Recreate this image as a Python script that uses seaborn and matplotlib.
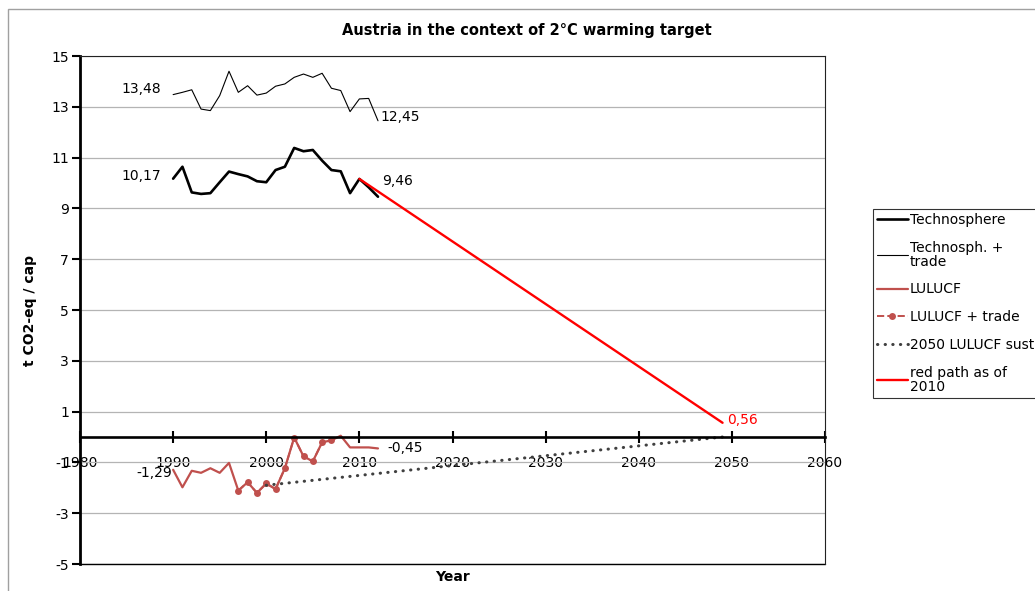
import matplotlib
matplotlib.use("Agg")
import matplotlib.pyplot as plt
import seaborn as sns
from matplotlib.patches import Rectangle

# data
years = list(range(1990, 2013))
technosphere = [10.17, 10.64, 9.63, 9.57, 9.60, 10.03, 10.45, 10.35, 10.26, 10.07, 10.03, 10.51,
                10.64, 11.38, 11.25, 11.30, 10.88, 10.51, 10.46, 9.60, 10.16, 9.83, 9.46]
technosph_trade = [13.48, 13.57, 13.67, 12.91, 12.85, 13.44, 14.40, 13.57, 13.83, 13.46, 13.54, 13.81,
                   13.90, 14.16, 14.29, 14.16, 14.32, 13.73, 13.64, 12.81, 13.31, 13.33, 12.45]
lulucf = [-1.29, -1.98, -1.33, -1.41, -1.23, -1.41, -1.02, -2.11, -1.78, -2.20, -1.83, -2.05,
          -1.23, -0.02, -0.76, -0.96, -0.21, -0.13, 0.05, -0.41, -0.41, -0.41, -0.45]
lulucf_trade_years = list(range(1997, 2008))
lulucf_trade = [-2.11, -1.78, -2.20, -1.83, -2.05, -1.23, -0.02, -0.76, -0.96, -0.21, -0.13]
sust_years = [2000, 2049]
sust_2050 = [-1.90, 0.0]
path_years = [2010, 2049]
red_path = [10.16, 0.56]

xticks = list(range(1980, 2061, 10))
yticks = list(range(-5, 16, 2))

sns.set_theme(style="white")
plt.rcParams['font.family'] = ['DejaVu Sans']
plt.rcParams['text.color'] = 'black'
plt.rcParams['axes.labelcolor'] = 'black'
plt.rcParams['xtick.color'] = 'black'
plt.rcParams['ytick.color'] = 'black'

fig = plt.figure(figsize=(10.35, 5.91), dpi=100)
ax = fig.add_axes([80 / 1035, 1 - 564 / 591, 745 / 1035, 508 / 591])

lulucf_col = '#C0504D'
sns.lineplot(x=years, y=technosphere, ax=ax, color='black', linewidth=1.9, label='Technosphere')
sns.lineplot(x=years, y=technosph_trade, ax=ax, color='black', linewidth=0.8,
             label='Technosph. +\ntrade')
sns.lineplot(x=years, y=lulucf, ax=ax, color=lulucf_col, linewidth=1.6, label='LULUCF')
sns.lineplot(x=lulucf_trade_years, y=lulucf_trade, ax=ax, color=lulucf_col, linewidth=1.4,
             linestyle='--', marker='o', markersize=5, markeredgewidth=0,
             label='LULUCF + trade')
sns.lineplot(x=sust_years, y=sust_2050, ax=ax, color='#404040', linewidth=2.2,
             linestyle=(0, (0.1, 2.4)), dash_capstyle='round',
             label='2050 LULUCF sustainable')
sns.lineplot(x=path_years, y=red_path, ax=ax, color='#FF0000', linewidth=1.7,
             label='red path as of\n2010')

handles, labels = ax.get_legend_handles_labels()
if ax.get_legend() is not None:
    ax.get_legend().remove()

ax.set_xlim(1980, 2060)
ax.set_ylim(-5, 15)
ax.set_xticks(xticks)
ax.set_yticks(yticks)
ax.set_xticklabels([str(t) for t in xticks])
ax.set_yticklabels([str(t) for t in yticks])
ax.yaxis.grid(True, color='#b4b4b4', linewidth=0.9)
ax.xaxis.grid(False)

for side in ['top', 'right']:
    ax.spines[side].set_color('#222222')
    ax.spines[side].set_linewidth(0.8)
ax.spines['left'].set_color('black')
ax.spines['left'].set_linewidth(2.0)
ax.spines['bottom'].set_position(('data', 0))
ax.spines['bottom'].set_color('black')
ax.spines['bottom'].set_linewidth(1.9)
# plot-area bottom border
ax.plot([0, 1], [0, 0], transform=ax.transAxes, color='black', linewidth=1.0, clip_on=False)

ax.tick_params(axis='x', direction='inout', length=8, width=1.5, color='black',
               pad=10, labelsize=10, bottom=True)
ax.tick_params(axis='y', direction='out', length=6, width=1.5, color='black',
               pad=2, labelsize=10, left=True)

ax.set_ylabel('t CO2-eq / cap', fontsize=10, fontweight='bold')
ax.yaxis.set_label_coords(-43 / 745, 0.5)
ax.set_xlabel('Year', fontsize=10, fontweight='bold')
ax.xaxis.set_label_coords(0.5, -6 / 508)

# value labels
ann = dict(textcoords='offset points', fontsize=10, va='center')
ax.annotate('13,48', xy=(years[0], technosph_trade[0]), xytext=(-9, 4), ha='right', **ann)
ax.annotate('12,45', xy=(years[-1], technosph_trade[-1]), xytext=(2, 3), ha='left', **ann)
ax.annotate('10,17', xy=(years[0], technosphere[0]), xytext=(-9, 2), ha='right', **ann)
ax.annotate('9,46', xy=(years[-1], technosphere[-1]), xytext=(3, 11), ha='left', **ann)
ax.annotate('-1,29', xy=(years[0], lulucf[0]), xytext=(-1, -2), ha='right', **ann)
ax.annotate('-0,45', xy=(years[-1], lulucf[-1]), xytext=(7, 0), ha='left', **ann)
ax.annotate('0,56', xy=(path_years[-1], red_path[-1]), xytext=(3, 2), ha='left',
            color='#FF0000', **ann)

fig.text(527 / 1035, 1 - 30 / 591, 'Austria in the context of 2°C warming target',
         ha='center', va='center', fontsize=10.5, fontweight='bold')

leg = fig.legend(handles, labels, loc='upper left', bbox_to_anchor=(873 / 1035, 1 - 209 / 591),
                 fontsize=10, frameon=True, fancybox=False, shadow=False,
                 handlelength=2.2, handletextpad=0.15, labelspacing=1.0,
                 borderpad=0.3, borderaxespad=0.0)
leg.get_frame().set_edgecolor('black')
leg.get_frame().set_linewidth(0.8)
for t in leg.get_texts():
    t.set_linespacing(0.95)

# chart-area outline
fig.patches.append(Rectangle((8 / 1035, -0.1), 1.2, 1.1 - 9 / 591, transform=fig.transFigure,
                             fill=False, edgecolor='#a0a0a0', linewidth=1.0))

fig.savefig('out.png', dpi=100)
